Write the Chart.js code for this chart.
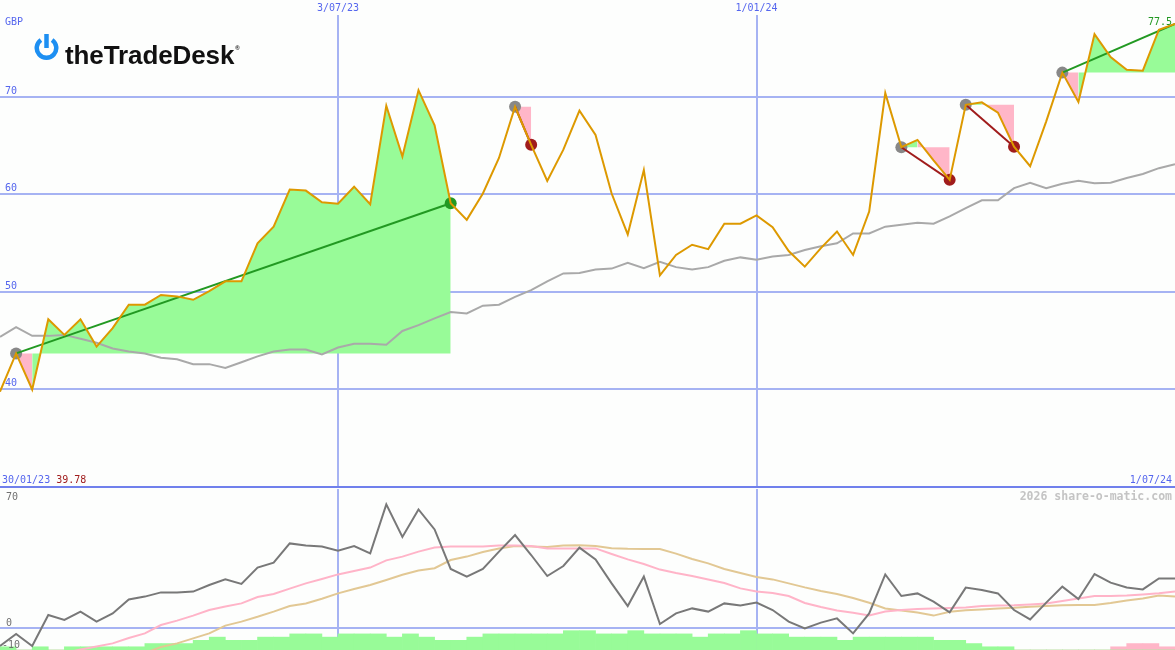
<!DOCTYPE html>
<html>
<head>
<meta charset="utf-8">
<script src="https://cdn.jsdelivr.net/npm/chart.js@4.4.1/dist/chart.umd.min.js"></script>
<style>
  body { margin: 0; background: #fdfefd; }
  #wrap { position: relative; width: 1175px; height: 650px; overflow: hidden; }
  canvas { position: absolute; left: 0; }
  .lbl { position: absolute; font: 10px 'DejaVu Sans Mono', monospace; line-height: 10px; white-space: pre; color: #5566ee; }
  .gray { color: #707070; }
  #brand { position: absolute; left: 34px; top: 33px; height: 30px; }
  #brand svg { position: absolute; left: 0; top: 0; }
  #brand span { position: absolute; left: 31px; top: 2px; font: bold 26px 'Liberation Sans', Arial, sans-serif; line-height: 26px; color: #111; letter-spacing: -0.1px; white-space: nowrap; }
  #brand sup { font-size: 6px; vertical-align: 14px; margin-left: 1px; }
</style>
</head>
<body>
<div id="wrap">
  <canvas id="priceChart" width="1175" height="489" style="top:0"></canvas>
  <canvas id="oscChart" width="1175" height="161" style="top:489px"></canvas>

  <div id="brand">
    <svg width="26" height="30" viewBox="0 0 26 30">
      <path d="M18.1 7.0 A9.75 9.75 0 1 1 6.9 7.0" stroke="#1d8ff2" stroke-width="4.5" fill="none"/>
      <line x1="12.5" y1="1" x2="12.5" y2="15" stroke="#1d8ff2" stroke-width="4.5"/>
    </svg>
    <span>theTradeDesk<sup>®</sup></span>
  </div>

  <div class="lbl" style="left:5px; top:16.5px">GBP</div>
  <div class="lbl" id="lastPrice" style="right:3px; top:16.5px; color:#229922"></div>
  <div class="lbl" style="left:2px; top:474.5px"><span id="startLabel"></span> <span id="firstPrice" style="color:#a01c1c"></span></div>
  <div class="lbl" id="endLabel" style="right:3px; top:474.5px"></div>
  <div class="lbl" style="right:3px; top:490px; font-size:11.5px; line-height:12px; font-weight:bold; color:#c4c4c4">2026 share-o-matic.com</div>
  <div class="lbl gray" style="left:6px; top:491.5px">70</div>
  <div class="lbl gray" style="left:6px; top:617.5px">0</div>
  <div class="lbl gray" style="left:2px; top:639.5px">-10</div>
</div>

<script>
// weekly closes, first one on 6/02/23
const firstClose = '2023-02-06';
const rangeStart = '30/01/23';
const rangeEnd = '2024-07-01';
const rangeEndLabel = '1/07/24';
const gridDates = ['2023-07-03', '2024-01-01'];
const gridLabels = ['3/07/23', '1/01/24'];
const priceTicks = [30, 40, 50, 60, 70];

const price = [39.78, 43.7, 40.0, 47.2, 45.6, 47.2, 44.4, 46.3, 48.7, 48.7,
  49.7, 49.55, 49.2, 50.1, 51.1, 51.1, 55.0, 56.7, 60.5, 60.4,
  59.2, 59.05, 60.8, 59.0, 69.1, 63.9, 70.7, 67.1, 59.1, 57.4,
  60.1, 63.75, 69.0, 65.1, 61.4, 64.6, 68.6, 66.1, 60.1, 55.9,
  62.5, 51.7, 53.8, 54.85, 54.4, 57.0, 57.0, 57.85, 56.65, 54.2,
  52.6, 54.5, 56.2, 53.8, 58.25, 70.4, 64.85, 65.6, 63.5, 61.5,
  69.2, 69.45, 68.4, 64.9, 62.9, 67.5, 72.5, 69.5, 76.45, 74.1,
  72.8, 72.7, 76.9, 77.5];

const avg = [45.4, 46.4, 45.5, 45.5, 45.6, 45.2, 44.8, 44.2, 43.9, 43.7,
  43.25, 43.1, 42.6, 42.6, 42.2, 42.8, 43.4, 43.9, 44.1, 44.1,
  43.6, 44.3, 44.7, 44.7, 44.6, 46.0, 46.6, 47.3, 47.95, 47.8,
  48.6, 48.7, 49.5, 50.2, 51.1, 51.9, 51.95, 52.3, 52.4, 53.0,
  52.45, 53.1, 52.55, 52.3, 52.55, 53.2, 53.55, 53.3, 53.65, 53.8,
  54.3, 54.7, 55.0, 56.0, 56.0, 56.7, 56.9, 57.1, 57.0, 57.75,
  58.6, 59.4, 59.4, 60.65, 61.2, 60.65, 61.1, 61.4, 61.15, 61.2,
  61.7, 62.1, 62.7, 63.1];

// swing trades: entry and exit week indexes
const swingEntry = [1, 32, 56, 60, 66];
const swingExit = [28, 33, 59, 63, 73];
const swingOpen = [false, false, false, false, true];

const osc = [-9, -3, -9, 6.5, 4, 8.2, 3.2, 7.3, 14.3, 15.7,
  17.8, 17.7, 18.2, 21.5, 24.3, 22, 30.2, 32.7, 42.3, 41.2,
  40.7, 38.7, 41, 37.3, 61.8, 45.5, 59.3, 49.3, 29.5, 25.7,
  29.5, 38.2, 46.5, 36.5, 26, 31, 40.2, 34.3, 22.3, 11,
  25.7, 2, 7.3, 9.8, 8.2, 12.3, 11.2, 12.7, 9, 3.2,
  -0.2, 2.7, 4.8, -2.7, 7.3, 26.8, 16, 17.3, 13.2, 7.8,
  20.2, 19, 17.3, 9, 4.3, 12.7, 20.7, 14.5, 27, 22.7,
  20.3, 19.3, 24.8, 24.8];

const oscFast = [null, null, null, null, -12.5, -10.8, -9.2, -7.7, -5.0, -2.7,
  1.5, 3.7, 6.2, 9, 10.8, 12.3, 15.5, 17, 19.7, 22.3,
  24.5, 26.8, 28.5, 30.2, 33.8, 35.7, 38.2, 40.2, 40.7, 40.7,
  40.7, 41.3, 41.3, 41, 39.8, 39.8, 39.8, 39.8, 37, 34.3,
  32, 29.2, 27.5, 26, 24.2, 22.5, 19.8, 18.2, 17.5, 16,
  12.5, 10.5, 8.8, 7.6, 6.3, 8.2, 9, 9.5, 9.8, 10.0,
  10.3, 11, 11.2, 11.4, 11.8, 12.3, 13.5, 14.8, 16, 16,
  16.2, 16.8, 17.4, 18.2];

const oscSlow = [null, null, null, null, null, null, null, null, null, -12.5,
  -9.5, -7.7, -5.2, -2.7, 1.2, 3.2, 5.6, 8.2, 11, 12.3,
  14.6, 17.3, 19.5, 21.5, 24, 26.6, 28.7, 29.9, 34, 35.7,
  38, 39.7, 41, 40.7, 40.5, 41.2, 41.4, 41, 39.9, 39.6,
  39.5, 39.5, 37.2, 34.5, 32.3, 29.5, 27.5, 25.5, 24.3, 22.3,
  20.3, 18.5, 17, 15, 12.6, 9.8, 8.7, 7.7, 6.2, 8.1,
  8.9, 9.3, 9.8, 10.1, 10.6, 11, 11.4, 11.5, 11.5, 12.5,
  13.8, 14.8, 16.3, 15.7];

// weekly histogram, one bar per week between closes
const histUp = [1, 0, 1, 0, 1, 1, 1, 1, 1, 2,
  2, 2, 3, 4, 3, 3, 4, 4, 5, 5,
  4, 5, 5, 5, 4, 5, 4, 3, 3, 4,
  5, 5, 5, 5, 5, 6, 6, 5, 5, 6,
  5, 5, 5, 4, 5, 5, 6, 5, 5, 4,
  4, 4, 3, 4, 4, 4, 4, 4, 3, 3,
  2, 1, 1, 0, 0, 0, 0, 0, 0, 0,
  0, 0, 0];
const histDown = [0, 0, 0, 0, 0, 0, 0, 0, 0, 0,
  0, 0, 0, 0, 0, 0, 0, 0, 0, 0,
  0, 0, 0, 0, 0, 0, 0, 0, 0, 0,
  0, 0, 0, 0, 0, 0, 0, 0, 0, 0,
  0, 0, 0, 0, 0, 0, 0, 0, 0, 0,
  0, 0, 0, 0, 0, 0, 0, 0, 0, 0,
  0, 0, 0, 0, 0, 0, 0, 0, 0, 1,
  2, 2, 1];

const BLUE_LINE = '#a6b3f3';
const BLUE_DARK = '#7080ec';
const BLUE_TEXT = '#5566ee';
const GREEN_FILL = '#98fb98';
const PINK_FILL = '#ffb6c8';
const WIN = '#229922';
const LOSS = '#a01c1c';

const day = s => (Date.parse(s) - Date.parse('2023-01-30')) / 86400000;
const x0 = day(firstClose);
const xs = price.map((_, i) => x0 + 7 * i);
const pt = (arr, i) => ({x: xs[i], y: arr[i]});
const series = arr => arr.map((v, i) => ({x: xs[i], y: v}));

Chart.defaults.font.family = "'DejaVu Sans Mono', monospace";
Chart.defaults.font.size = 10;

// --- price panel ---
const topSets = [];
swingEntry.forEach((s, n) => {
    const e = swingExit[n];
    const base = price[s];
    topSets.push({
        data: price.slice(s, e + 1).map((v, j) => pt(price, s + j)),
        borderWidth: 0,
        pointRadius: 0,
        backgroundColor: GREEN_FILL,
        fill: {target: {value: base}},
        segment: {backgroundColor: c => c.p1.parsed.y >= base ? GREEN_FILL : PINK_FILL},
        order: 10
    });
    topSets.push({
        data: [pt(price, s), pt(price, e)],
        borderColor: price[e] >= base ? WIN : LOSS,
        borderWidth: 2,
        pointRadius: 0,
        order: 3
    });
});

const closedExits = swingExit.filter((_, n) => !swingOpen[n]);
const closedColors = swingExit
    .map((e, n) => price[e] >= price[swingEntry[n]] ? WIN : LOSS)
    .filter((_, n) => !swingOpen[n]);

topSets.push({
    data: swingEntry.map(i => pt(price, i)),
    showLine: false, pointRadius: 6, pointBorderWidth: 0,
    pointBackgroundColor: '#888888', order: 5
});
topSets.push({
    data: closedExits.map(i => pt(price, i)),
    showLine: false, pointRadius: 6, pointBorderWidth: 0,
    pointBackgroundColor: closedColors, order: 5
});
topSets.push({data: series(avg), borderColor: '#a9a9a9', borderWidth: 2, pointRadius: 0, order: 8});
topSets.push({data: series(price), borderColor: '#dd9900', borderWidth: 2, pointRadius: 0, order: 1});

const dateAxis = (extra) => Object.assign({
    type: 'linear',
    position: 'top',
    min: day(firstClose),
    max: day(rangeEnd),
    offset: false,
    afterBuildTicks: s => { s.ticks = gridDates.map(d => ({value: day(d)})); },
    grid: {color: BLUE_LINE, lineWidth: 2, drawTicks: false, offset: false},
    border: {display: false}
}, extra);

new Chart(document.getElementById('priceChart'), {
    type: 'line',
    data: {datasets: topSets},
    options: {
        responsive: false,
        animation: false,
        devicePixelRatio: 1,
        layout: {autoPadding: false, padding: {bottom: 2}},
        plugins: {legend: {display: false}, tooltip: {enabled: false}},
        elements: {line: {tension: 0, fill: false}},
        scales: {
            x: dateAxis({
                afterFit: s => { s.height = 15; s.paddingLeft = 0; s.paddingRight = 0; },
                ticks: {autoSkip: false, maxRotation: 0, padding: 1, color: BLUE_TEXT,
                    callback: (v, i) => gridLabels[i]}
            }),
            y: {
                min: 30,
                max: 78.41,
                afterBuildTicks: s => { s.ticks = priceTicks.map(v => ({value: v})); },
                afterFit: s => { s.width = 0; s.paddingTop = 0; s.paddingBottom = 0; },
                ticks: {mirror: true, padding: 5, labelOffset: -6, color: BLUE_TEXT,
                    callback: v => v === priceTicks[0] ? '' : v},
                grid: {
                    color: c => c.tick && c.tick.value === priceTicks[0] ? BLUE_DARK : BLUE_LINE,
                    lineWidth: 2, drawTicks: false
                },
                border: {display: false}
            }
        }
    }
});

// --- oscillator panel ---
const barX = i => xs[i] + 3.5;

new Chart(document.getElementById('oscChart'), {
    type: 'line',
    data: {
        datasets: [
            {data: series(osc), borderColor: '#787878', borderWidth: 2, pointRadius: 0, order: 1},
            {data: series(oscFast), borderColor: '#ffb4c8', borderWidth: 2, pointRadius: 0, order: 2},
            {data: series(oscSlow), borderColor: '#e2c894', borderWidth: 2, pointRadius: 0, order: 3},
            {type: 'bar', yAxisID: 'yBar', data: histUp.map((v, i) => ({x: barX(i), y: v})),
                backgroundColor: GREEN_FILL, barPercentage: 1, categoryPercentage: 1, grouped: false, order: 4},
            {type: 'bar', yAxisID: 'yBar', data: histDown.map((v, i) => ({x: barX(i), y: v})),
                backgroundColor: PINK_FILL, barPercentage: 1, categoryPercentage: 1, grouped: false, order: 4}
        ]
    },
    options: {
        responsive: false,
        animation: false,
        devicePixelRatio: 1,
        layout: {autoPadding: false},
        plugins: {legend: {display: false}, tooltip: {enabled: false}},
        elements: {line: {tension: 0, fill: false}},
        scales: {
            x: dateAxis({
                afterFit: s => { s.height = 0; },
                ticks: {display: false}
            }),
            y: {
                min: -11,
                max: 69.5,
                afterBuildTicks: s => { s.ticks = [{value: 0}]; },
                afterFit: s => { s.width = 0; },
                ticks: {display: false},
                grid: {color: BLUE_LINE, lineWidth: 2, drawTicks: false},
                border: {display: false}
            },
            yBar: {display: false, min: 0, max: 50}
        }
    }
});

document.getElementById('startLabel').textContent = rangeStart;
document.getElementById('firstPrice').textContent = price[0].toFixed(2);
document.getElementById('endLabel').textContent = rangeEndLabel;
document.getElementById('lastPrice').textContent = price[price.length - 1].toFixed(1);
</script>
</body>
</html>
